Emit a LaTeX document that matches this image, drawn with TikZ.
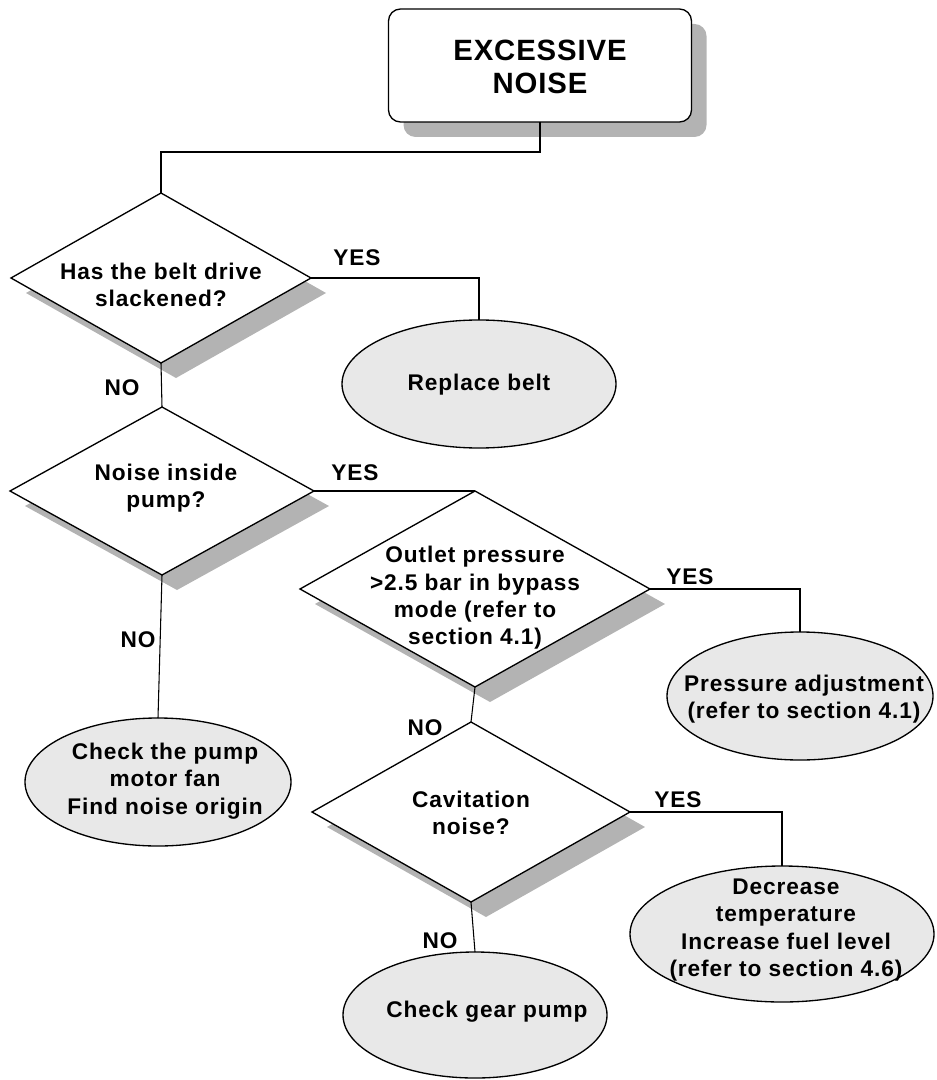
\documentclass[tikz,border=0pt]{standalone}
\usepackage{fontspec}
\setmainfont{Liberation Sans}
\newfontfamily\chartfont{Liberation Sans}[LetterSpace=4]
\newfontfamily\headfont{Liberation Sans}[LetterSpace=3]
\usepackage{tikz}
\usetikzlibrary{shapes.geometric,calc}

\definecolor{shadowgray}{RGB}{179,179,179}
\definecolor{endfill}{RGB}{232,232,232}

\tikzset{
  txt/.style={align=center, inner sep=0pt, font=\chartfont\bfseries\fontsize{17}{20.5}\selectfont},
  headtxt/.style={align=center, inner sep=0pt, font=\headfont\bfseries\fontsize{22}{24.75}\selectfont},
  dropped/.style={preaction={fill=shadowgray, transform canvas={shift={(15,-15)}}}},
  startbox/.style={rectangle, rounded corners=9pt, draw, fill=white, line width=1pt, outer sep=0pt, dropped},
  decision/.style={diamond, draw, fill=white, line width=1pt, inner sep=0pt, outer sep=0pt, dropped},
  remedy/.style={ellipse, draw, fill=endfill, line width=1pt, inner sep=0pt, outer sep=0pt},
  link/.style={line width=0.8pt}
}

\begin{document}
\begin{tikzpicture}[x=0.75pt,y=0.75pt,yscale=-1,xscale=1]
    \useasboundingbox (0,0) rectangle (936,1080);

    % shapes
    \node[startbox, minimum width=227.25pt, minimum height=84.75pt] (start) at (540,65.5) {};
    \node[decision, minimum width=225pt, minimum height=127.5pt] (belt-q) at (161,278) {};
    \node[remedy, minimum width=205.5pt, minimum height=96pt] (belt-fix) at (479,384) {};
    \node[decision, minimum width=228pt, minimum height=126pt] (pump-q) at (162,491) {};
    \node[remedy, minimum width=199.5pt, minimum height=96pt] (fan-fix) at (158,782) {};
    \node[decision, minimum width=262.5pt, minimum height=147pt] (press-q) at (475,589) {};
    \node[remedy, minimum width=199.5pt, minimum height=96pt] (press-fix) at (800,696) {};
    \node[decision, minimum width=238.5pt, minimum height=135pt] (cav-q) at (471,812) {};
    \node[remedy, minimum width=228pt, minimum height=102pt] (temp-fix) at (782,934) {};
    \node[remedy, minimum width=198pt, minimum height=94.5pt] (gear-fix) at (475,1015) {};

    % texts
    \node[headtxt] (start-txt) at (540,67) {EXCESSIVE\\NOISE};
    \node[txt] (belt-q-txt) at (161,285) {Has the belt drive\\slackened?};
    \node[txt] (belt-fix-txt) at (479,385) {Replace belt};
    \node[txt] (pump-q-txt) at (166,488) {Noise inside\\pump?};
    \node[txt] (fan-fix-txt) at (165,781) {Check the pump\\motor fan\\Find noise origin};
    \node[txt] (press-q-txt) at (475,598) {Outlet pressure\\>2.5 bar in bypass\\mode (refer to\\section 4.1)};
    \node[txt] (press-fix-txt) at (804,699) {Pressure adjustment\\(refer to section 4.1)};
    \node[txt] (cav-q-txt) at (471,813) {Cavitation\\noise?};
    \node[txt] (temp-fix-txt) at (786,930) {Decrease\\temperature\\Increase fuel level\\(refer to section 4.6)};
    \node[txt] (gear-fix-txt) at (487,1012) {Check gear pump};

    % answers
    \node[txt] (yes1) at (357,258) {YES};
    \node[txt] (no1) at (122,388) {NO};
    \node[txt] (yes2) at (355,473) {YES};
    \node[txt] (no2) at (138,640) {NO};
    \node[txt] (yes3) at (690,577) {YES};
    \node[txt] (no3) at (425,728) {NO};
    \node[txt] (yes4) at (678,800) {YES};
    \node[txt] (no4) at (440,941) {NO};

    % connectors
    \draw[link] (start.south) -- ++(0,30) -| (belt-q.north);
    \draw[link] (belt-q.east) -| (belt-fix.north);
    \draw[link] (belt-q.south) -- (pump-q.north);
    \draw[link] (pump-q.east) -| (press-q.north);
    \draw[link] (pump-q.south) -- (fan-fix.north);
    \draw[link] (press-q.east) -| (press-fix.north);
    \draw[link] (press-q.south) -- (cav-q.north);
    \draw[link] (cav-q.east) -| (temp-fix.north);
    \draw[link] (cav-q.south) -- (gear-fix.north);
\end{tikzpicture}
\end{document}
